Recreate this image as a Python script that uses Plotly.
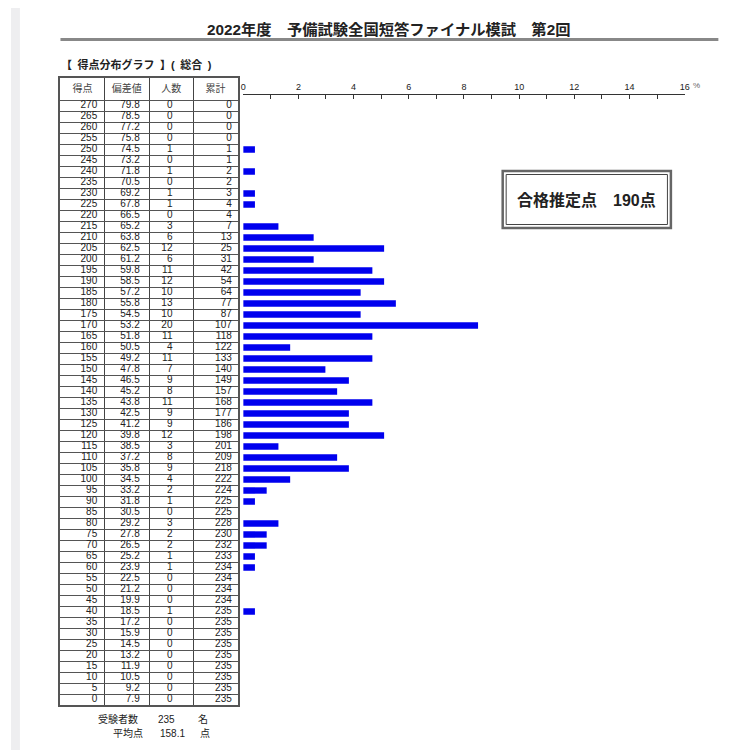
import plotly.graph_objects as go

# score bands (得点), deviation (偏差値), head count (人数), cumulative (累計)
scores = list(range(270, -1, -5))
deviation = [79.8, 78.5, 77.2, 75.8, 74.5, 73.2, 71.8, 70.5, 69.2, 67.8, 66.5,
             65.2, 63.8, 62.5, 61.2, 59.8, 58.5, 57.2, 55.8, 54.5, 53.2, 51.8,
             50.5, 49.2, 47.8, 46.5, 45.2, 43.8, 42.5, 41.2, 39.8, 38.5, 37.2,
             35.8, 34.5, 33.2, 31.8, 30.5, 29.2, 27.8, 26.5, 25.2, 23.9, 22.5,
             21.2, 19.9, 18.5, 17.2, 15.9, 14.5, 13.2, 11.9, 10.5, 9.2, 7.9]
counts = [0, 0, 0, 0, 1, 0, 1, 0, 1, 1, 0,
          3, 6, 12, 6, 11, 12, 10, 13, 10, 20, 11,
          4, 11, 7, 9, 8, 11, 9, 9, 12, 3, 8,
          9, 4, 2, 1, 0, 3, 2, 2, 1, 1, 0,
          0, 0, 1, 0, 0, 0, 0, 0, 0, 0, 0]
cumulative = [0, 0, 0, 0, 1, 1, 2, 2, 3, 4, 4,
              7, 13, 25, 31, 42, 54, 64, 77, 87, 107, 118,
              122, 133, 140, 149, 157, 168, 177, 186, 198, 201, 209,
              218, 222, 224, 225, 225, 228, 230, 232, 233, 234, 234,
              234, 234, 235, 235, 235, 235, 235, 235, 235, 235, 235]
headers = ["得点", "偏差値", "人数", "累計"]
pct_ticks = [0, 2, 4, 6, 8, 10, 12, 14, 16]

n_examinees = 235
mean_score = 158.1
pass_line = 190

pct = [c / n_examinees * 100 for c in counts]

W = 750
OFF = 8  # the page body margin shifts the plot by this much


def px(x):
    return (x - OFF) / W


def py(y):
    return 1 - (y - OFF) / W


FONT = "Liberation Sans, Noto Sans CJK JP, sans-serif"
TXT = "#222222"

fig = go.Figure()

# histogram bars (percent of examinees)
fig.add_trace(go.Bar(
    x=pct, y=scores, orientation="h", width=2.9,
    marker=dict(color="#0000ee", line_width=0),
    xaxis="x", yaxis="y2", hoverinfo="skip",
))

# table body, each column right aligned
col_anchor = [0.83, 1.79, 2.53, 3.87]
columns = [
    [str(s) for s in scores],
    [f"{d:.1f}" for d in deviation],
    [str(c) for c in counts],
    [str(c) for c in cumulative],
]
for xa, col in zip(col_anchor, columns):
    fig.add_trace(go.Scatter(
        x=[xa] * len(scores), y=scores, text=col, mode="text",
        textposition="middle left",
        textfont=dict(family=FONT, size=10, color=TXT),
        xaxis="x2", yaxis="y", hoverinfo="skip",
    ))

# header row
fig.add_trace(go.Scatter(
    x=[0.5, 1.5, 2.5, 3.5], y=[277.5] * 4, text=headers, mode="text",
    textposition="middle center",
    textfont=dict(family=FONT, size=10, color="#444444"),
    xaxis="x2", yaxis="y", hoverinfo="skip",
))

row_lines = [2.5 + 5 * k for k in range(55)]

fig.update_layout(
    width=750, height=750,
    margin=dict(l=0, r=0, t=0, b=0),
    paper_bgcolor="white", plot_bgcolor="white",
    showlegend=False,
    font=dict(family=FONT, color=TXT),
    xaxis2=dict(
        domain=[px(58), px(237)], range=[0, 4], anchor="y",
        tickvals=[1, 2, 3], showticklabels=False, ticks="",
        showgrid=True, gridcolor="#444444", gridwidth=1,
        showline=True, mirror=True, linecolor="#555555", linewidth=2,
        zeroline=False, fixedrange=True,
    ),
    yaxis=dict(
        domain=[py(705), py(78)], range=[-2.5, 282.5], anchor="x2",
        tickvals=row_lines, showticklabels=False, ticks="",
        showgrid=True, gridcolor="#555555", gridwidth=1,
        showline=True, mirror=True, linecolor="#555555", linewidth=2,
        zeroline=False, fixedrange=True,
    ),
    xaxis=dict(
        domain=[px(242.7), px(689)], range=[0, 16], side="top",
        anchor="free", position=py(94),
        tickmode="array", tickvals=pct_ticks,
        ticktext=[str(t) for t in pct_ticks],
        ticks="inside", ticklen=4, tickcolor="#333333",
        minor=dict(tickvals=list(range(1, 16, 2)), ticks="inside",
                   ticklen=4, tickcolor="#333333"),
        showline=True, linecolor="#333333", linewidth=1,
        showgrid=False, zeroline=False,
        tickfont=dict(family=FONT, size=9, color=TXT),
        fixedrange=True,
    ),
    yaxis2=dict(
        domain=[py(705), py(78)], range=[-2.5, 282.5], anchor="x",
        visible=False, fixedrange=True,
    ),
)

shapes = [
    # page margin strip on the left
    dict(type="rect", xref="paper", yref="paper", x0=0, x1=px(17), y0=0, y1=1,
         fillcolor="#eeeef0", line_width=0, layer="below"),
    # title underline
    dict(type="line", xref="paper", yref="paper", x0=px(58), x1=px(723),
         y0=py(39.5), y1=py(39.5), line=dict(color="#888888", width=3)),
    # pass line box (double border)
    dict(type="rect", xref="paper", yref="paper", x0=px(505), x1=px(675),
         y0=py(228), y1=py(171), line=dict(color="#666666", width=2.5)),
    dict(type="rect", xref="paper", yref="paper", x0=px(508.5), x1=px(671.5),
         y0=py(224.5), y1=py(174.5), line=dict(color="#444444", width=1)),
]
fig.update_layout(shapes=shapes)


def note(text, x, y, size, anchor="left", color=TXT):
    fig.add_annotation(text=text, x=px(x), y=py(y), xref="paper", yref="paper",
                       xanchor=anchor, yanchor="middle", showarrow=False,
                       font=dict(family=FONT, size=size, color=color))


note("<b>2022年度　予備試験全国短答ファイナル模試　第2回</b>", 390, 29, 15.3, "center")
note("<b>【\u2002得点分布グラフ\u2002】(\u2002総合\u2002)</b>", 57, 65, 11)
note("%", 695, 86, 8, color="#666666")
note(f"<b>合格推定点　{pass_line}点</b>", 590, 199.5, 16, "center")

note("受験者数", 94, 719, 10)
note(str(n_examinees), 155, 719, 10)
note("名", 195, 719, 10)
note("平均点", 109, 733, 10)
note(f"{mean_score}", 157, 733, 10)
note("点", 197, 733, 10)

fig.write_html("out.html")
